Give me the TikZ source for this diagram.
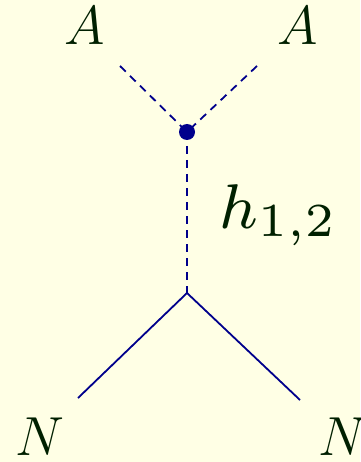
\RequirePackage{fix-cm}
\documentclass[tikz,border=0pt]{standalone}
\usepackage{graphicx}
\usepackage{xcolor}
\DeclareMathSizes{55}{55}{40}{30}
\definecolor{bg}{RGB}{255,255,229}
\definecolor{ln}{RGB}{0,0,140}
\definecolor{tx}{RGB}{0,32,0}
\begin{document}
\begin{tikzpicture}[x=1pt,y=-1pt,
  lbl/.style={text=tx,inner sep=0pt,anchor=base,font=\fontsize{55}{58}\selectfont},
  big/.style={text=tx,inner sep=0pt,anchor=base west},
  prop/.style={draw=ln,line width=1.8pt},
  dprop/.style={draw=ln,line width=1.8pt,dash pattern=on 8pt off 6pt}]
\fill[bg] (0,0) rectangle (360,462);
\useasboundingbox (0,0) rectangle (360,462);
\node[lbl] (a1) at (85,45) {$A$};
\node[lbl] (a2) at (298,45) {$A$};
\node[lbl] (n1) at (40,455) {$N$};
\node[lbl] (n2) at (343,455) {$N$};
\node[big] (h) at (219,228) {\scalebox{7.9}{\footnotesize$h_{1,2}$}};
\coordinate (ea1) at (120,66);
\coordinate (ea2) at (257,66);
\coordinate (v) at (187,132);
\coordinate (w) at (187,293);
\coordinate (en1) at (78,398);
\coordinate (en2) at (300,400);
\draw[dprop] (ea1) -- (v);
\draw[dprop] (ea2) -- (v);
\draw[dprop] (v) -- (w);
\draw[prop] (w) -- (en1);
\draw[prop] (w) -- (en2);
\fill[ln] (v) circle (8);
\end{tikzpicture}
\end{document}
